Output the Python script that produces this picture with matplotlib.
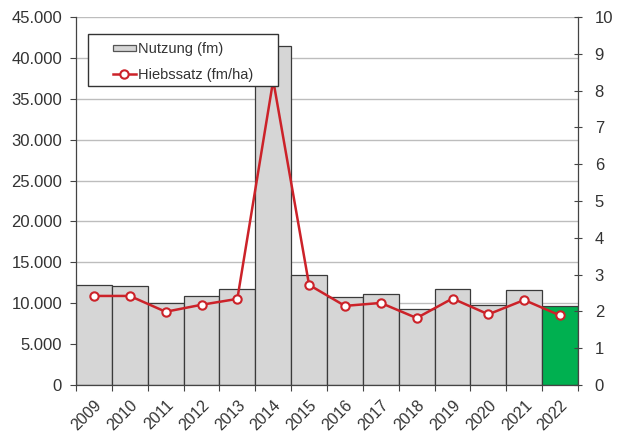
"""Nutzung und Hiebssatz 2009-2022."""

import matplotlib

matplotlib.use("Agg")
import matplotlib.pyplot as plt
import numpy as np
from matplotlib.legend_handler import HandlerPatch
from matplotlib.patches import Rectangle
from matplotlib.ticker import FixedLocator, FuncFormatter

plt.rcParams["font.family"] = ["Liberation Sans", "DejaVu Sans"]
plt.rcParams["font.size"] = 12

years = [str(y) for y in range(2009, 2023)]
nutzung_fm = [12200, 12100, 10000, 10900, 11750, 41400, 13500,
              10700, 11100, 9300, 11800, 9800, 11650, 9600]
hiebssatz_fm_ha = [2.42, 2.42, 1.99, 2.18, 2.34, 8.28, 2.72,
                   2.15, 2.23, 1.82, 2.35, 1.92, 2.31, 1.89]

BAR_GREY = "#d6d6d6"
BAR_CURRENT = "#00b050"
LINE_RED = "#cc2229"
TEXT = "#333333"
AXIS = "#444444"


def de_thousands(v, _pos):
    return f"{int(v):,}".replace(",", ".")


def flat_box(legend, orig_handle, xdescent, ydescent, width, height, fontsize):
    # slim rectangle for the bar entry
    h = height * 0.55
    return Rectangle((-xdescent, -ydescent + (height - h) / 2), width, h)


fig = plt.figure(figsize=(6.19, 4.32), dpi=100)
fig.subplots_adjust(left=76 / 619, right=578 / 619, top=1 - 17 / 432, bottom=1 - 385 / 432)
ax = fig.add_subplot(111)

x = np.arange(len(years))
colors = [BAR_GREY] * (len(years) - 1) + [BAR_CURRENT]
bars = ax.bar(x, nutzung_fm, width=1.0, color=colors, edgecolor="#3a3a3a",
              linewidth=0.9, zorder=2)

ax.set_xlim(-0.5, len(years) - 0.5)
ax.set_ylim(0, 45000)
ax.yaxis.set_major_locator(FixedLocator(np.arange(0, 45001, 5000)))
ax.yaxis.set_major_formatter(FuncFormatter(de_thousands))
ax.grid(axis="y", color="#bdbdbd", linewidth=1.0, zorder=0)
ax.set_axisbelow(True)

ax.set_xticks(x)
ax.set_xticklabels(years, rotation=45, ha="right", rotation_mode="anchor")
ax.set_xticks(np.arange(-0.5, len(years)), minor=True)
ax.tick_params(axis="x", which="major", length=0, pad=9, labelsize=11.5, labelcolor=TEXT)
ax.tick_params(axis="x", which="minor", length=4, width=0.8, color=AXIS)
ax.tick_params(axis="y", length=4, width=0.8, pad=6, color=AXIS, labelcolor=TEXT)

for side in ("top", "right"):
    ax.spines[side].set_visible(False)
for side in ("left", "bottom"):
    ax.spines[side].set_color(AXIS)
    ax.spines[side].set_linewidth(0.9)

ax2 = ax.twinx()
ax2.set_ylim(0, 10)
ax2.yaxis.set_major_locator(FixedLocator(np.arange(0, 11, 1)))
line, = ax2.plot(x, hiebssatz_fm_ha, color=LINE_RED, linewidth=1.8, marker="o",
                 markersize=6, markerfacecolor="white", markeredgecolor=LINE_RED,
                 markeredgewidth=1.5, zorder=3)
ax2.tick_params(axis="y", direction="inout", length=6, width=0.8, pad=9,
                color=AXIS, labelcolor=TEXT)
for side in ("top", "left", "bottom"):
    ax2.spines[side].set_visible(False)
ax2.spines["right"].set_color(AXIS)
ax2.spines["right"].set_linewidth(0.9)

# legend box drawn by hand so the entries sit centred in a wider frame
box_x, box_y, box_w, box_h = 0.0239, 0.8125, 0.3785, 0.1413
ax2.add_patch(Rectangle((box_x + 0.002, box_y - 0.003), box_w, box_h,
                        transform=ax2.transAxes, facecolor="#777777",
                        edgecolor="none", zorder=6))
ax2.add_patch(Rectangle((box_x, box_y), box_w, box_h, transform=ax2.transAxes,
                        facecolor="white", edgecolor="#333333", linewidth=1.0,
                        zorder=6.1))

leg = ax2.legend([bars[0], line], ["Nutzung (fm)", "Hiebssatz (fm/ha)"],
                 loc="center", bbox_to_anchor=(box_x + box_w / 2, box_y + box_h / 2 - 0.006),
                 frameon=False, borderpad=0.0, labelspacing=0.85,
                 handlelength=1.55, handletextpad=0.15, fontsize=10.5,
                 handler_map={type(bars[0]): HandlerPatch(patch_func=flat_box)})
leg.set_zorder(7)
leg.legend_handles[0].set_facecolor(BAR_GREY)
leg.legend_handles[0].set_edgecolor("#555555")
for t in leg.get_texts():
    t.set_color(TEXT)

fig.savefig("out.png", dpi=100)
